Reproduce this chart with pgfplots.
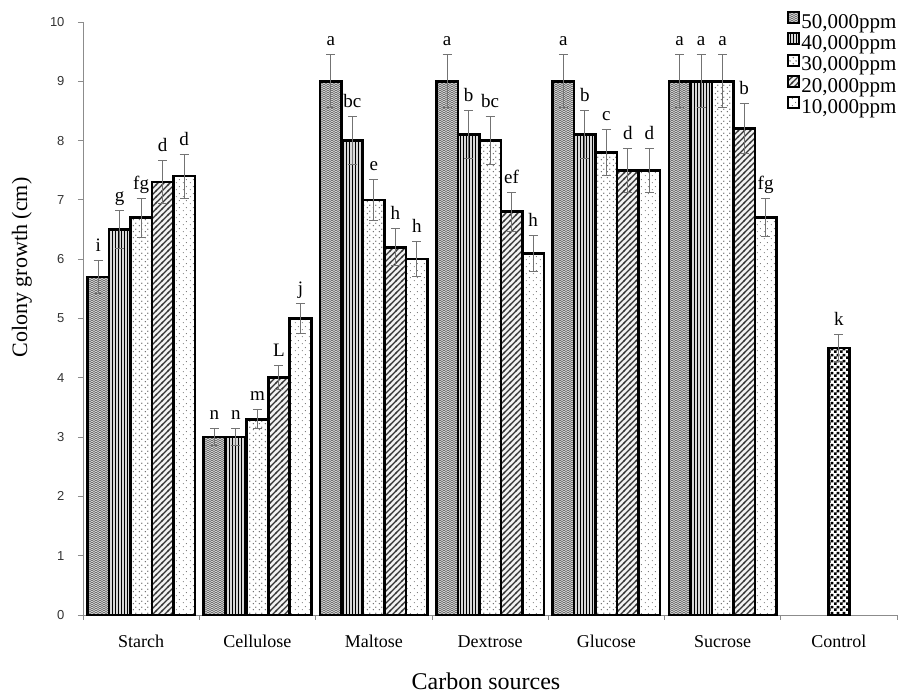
\documentclass[border=0pt]{standalone}
\usepackage{pgfplots}
\pgfplotsset{compat=1.18}
\usepackage{pgfplotstable}
\usepackage{fontspec}
\setmainfont{Liberation Serif}
\newfontfamily\arialfont{Liberation Sans}
\usetikzlibrary{patterns}

\pgfdeclarepatternformonly{zigzag}{\pgfqpoint{-0.5pt}{-0.5pt}}{\pgfqpoint{4.5pt}{4.5pt}}{\pgfqpoint{4pt}{4pt}}{%
  \pgfsetlinewidth{0.6pt}%
  \pgfpathmoveto{\pgfqpoint{0pt}{0pt}}\pgfpathlineto{\pgfqpoint{2pt}{1.6pt}}\pgfpathlineto{\pgfqpoint{4pt}{0pt}}%
  \pgfpathmoveto{\pgfqpoint{0pt}{2pt}}\pgfpathlineto{\pgfqpoint{2pt}{3.6pt}}\pgfpathlineto{\pgfqpoint{4pt}{2pt}}%
  \pgfusepath{stroke}}
\pgfdeclarepatternformonly{vstripes}{\pgfqpoint{0pt}{-0.5pt}}{\pgfqpoint{3pt}{3.5pt}}{\pgfqpoint{3pt}{3pt}}{%
  \pgfsetlinewidth{1pt}%
  \pgfpathmoveto{\pgfqpoint{1.5pt}{-0.5pt}}\pgfpathlineto{\pgfqpoint{1.5pt}{3.5pt}}%
  \pgfusepath{stroke}}
\pgfdeclarepatternformonly{densedots}{\pgfqpoint{0pt}{0pt}}{\pgfqpoint{6pt}{6pt}}{\pgfqpoint{6pt}{6pt}}{%
  \pgfpathcircle{\pgfqpoint{1.5pt}{1.5pt}}{0.85pt}%
  \pgfpathcircle{\pgfqpoint{4.5pt}{4.5pt}}{0.85pt}%
  \pgfusepath{fill}}
\pgfdeclarepatternformonly{diagwide}{\pgfqpoint{-1pt}{-1pt}}{\pgfqpoint{7pt}{7pt}}{\pgfqpoint{6pt}{6pt}}{%
  \pgfsetlinewidth{1.4pt}%
  \pgfpathmoveto{\pgfqpoint{-1pt}{-1pt}}\pgfpathlineto{\pgfqpoint{7pt}{7pt}}%
  \pgfusepath{stroke}}
\pgfdeclarepatternformonly{sparsedots}{\pgfqpoint{0pt}{0pt}}{\pgfqpoint{7pt}{7pt}}{\pgfqpoint{7pt}{7pt}}{%
  \pgfpathcircle{\pgfqpoint{1.5pt}{1.5pt}}{0.6pt}%
  \pgfpathcircle{\pgfqpoint{5pt}{5pt}}{0.6pt}%
  \pgfusepath{fill}}
\pgfdeclarepatternformonly{checker}{\pgfqpoint{0pt}{0pt}}{\pgfqpoint{6pt}{6pt}}{\pgfqpoint{6pt}{6pt}}{%
  \pgfpathrectangle{\pgfqpoint{0pt}{0pt}}{\pgfqpoint{3pt}{3pt}}%
  \pgfpathrectangle{\pgfqpoint{3pt}{3pt}}{\pgfqpoint{3pt}{3pt}}%
  \pgfusepath{fill}}

% x: 0 Starch, 1 Cellulose, 2 Maltose, 3 Dextrose, 4 Glucose, 5 Sucrose
\pgfplotstableread{
x y err lab
0 5.7 0.28 i
1 3.0 0.15 n
2 9.0 0.45 a
3 9.0 0.45 a
4 9.0 0.45 a
5 9.0 0.45 a
}\ppmA
\pgfplotstableread{
x y err lab
0 6.5 0.32 g
1 3.0 0.15 n
2 8.0 0.40 bc
3 8.1 0.40 b
4 8.1 0.40 b
5 9.0 0.45 a
}\ppmB
\pgfplotstableread{
x y err lab
0 6.7 0.33 fg
1 3.3 0.16 m
2 7.0 0.34 e
3 8.0 0.40 bc
4 7.8 0.39 c
5 9.0 0.45 a
}\ppmC
\pgfplotstableread{
x y err lab
0 7.3 0.36 d
1 4.0 0.20 L
2 6.2 0.31 h
3 6.8 0.33 ef
4 7.5 0.37 d
5 8.2 0.42 b
}\ppmD
\pgfplotstableread{
x y err lab
0 7.4 0.37 d
1 5.0 0.25 j
2 6.0 0.30 h
3 6.1 0.30 h
4 7.5 0.37 d
5 6.7 0.32 fg
}\ppmE
\pgfplotstableread{
x y err lab
6 4.5 0.23 k
}\ctrl

\pgfplotsset{
  mybar/.style={
    draw=black, line width=2.6pt,
    error bars/y dir=both, error bars/y explicit,
    error bars/error bar style={line width=1pt, black!55},
    error bars/error mark options={rotate=90, mark size=4.5pt, line width=1pt, black!55},
    nodes near coords, point meta=explicit symbolic,
    visualization depends on={\thisrow{err}\as\eb},
    nodes near coords style={anchor=base, yshift=\eb*59.3pt+9pt,
      font=\fontsize{19}{19}\selectfont, text=black, inner sep=0pt},
    legend image code/.code={\draw[##1, line width=2pt] (0pt,-1pt) rectangle (11pt,10pt);},
  }
}

\begin{document}
\begin{tikzpicture}
\begin{axis}[
  ybar=0pt, bar width=21.5pt,
  x=116.3pt, y=59.3pt,
  xmin=-0.5, xmax=6.5, ymin=0, ymax=10,
  clip=false,
  axis lines=left,
  axis line style={-, black!45, line width=0.8pt},
  tick align=outside,
  major tick length=5pt, minor tick length=5pt,
  xtick={0,...,6},
  xticklabels={Starch,Cellulose,Maltose,Dextrose,Glucose,Sucrose,Control},
  major x tick style={draw=none},
  minor xtick={-0.5,0.5,1.5,2.5,3.5,4.5,5.5,6.5},
  minor x tick style={black!45, line width=0.8pt},
  ytick={0,...,10},
  major y tick style={black!45, line width=0.8pt},
  /pgf/number format/assume math mode=true,
  yticklabel style={font=\arialfont\fontsize{13}{13}\selectfont, text=black!80, xshift=-10pt},
  xticklabel style={font=\fontsize{18}{18}\selectfont, anchor=base, yshift=-27pt},
  xlabel={Carbon sources},
  ylabel={Colony growth (cm)},
  xlabel style={font=\fontsize{24}{24}\selectfont, at={(axis description cs:0.495,-0.111)}, anchor=center},
  ylabel style={font=\fontsize{22}{22}\selectfont, at={(axis description cs:-0.075,0.586)}, anchor=center, rotate=0},
  legend style={at={(rel axis cs:1,1)}, anchor=north east, xshift=4pt, yshift=13pt,
    draw=none, fill=none, font=\fontsize{21}{21}\selectfont,
    row sep=1pt, nodes={inner sep=1.5pt},
    /tikz/every even column/.append style={column sep=3pt}},
  legend cell align=left,
]
\addplot[mybar, bar shift=-43pt, fill=gray!30, postaction={pattern=zigzag, pattern color=black!60}]
  table[x=x, y=y, y error=err, meta=lab]{\ppmA};
\addlegendentry{50,000ppm}
\addplot[mybar, bar shift=-21.5pt, fill=gray!30, postaction={pattern=vstripes, pattern color=black}]
  table[x=x, y=y, y error=err, meta=lab]{\ppmB};
\addlegendentry{40,000ppm}
\addplot[mybar, bar shift=0pt, fill=white, postaction={pattern=densedots, pattern color=black!60}]
  table[x=x, y=y, y error=err, meta=lab]{\ppmC};
\addlegendentry{30,000ppm}
\addplot[mybar, bar shift=21.5pt, fill=gray!10, postaction={pattern=diagwide, pattern color=black!80}]
  table[x=x, y=y, y error=err, meta=lab]{\ppmD};
\addlegendentry{20,000ppm}
\addplot[mybar, bar shift=43pt, fill=white, postaction={pattern=sparsedots, pattern color=black!55}]
  table[x=x, y=y, y error=err, meta=lab]{\ppmE};
\addlegendentry{10,000ppm}
\addplot[mybar, bar shift=0pt, fill=white, postaction={pattern=checker, pattern color=black}, forget plot]
  table[x=x, y=y, y error=err, meta=lab]{\ctrl};
\end{axis}
\pgfresetboundingbox
\path[use as bounding box] (-83pt,-80pt) rectangle (816pt,615pt);
\end{tikzpicture}
\end{document}
